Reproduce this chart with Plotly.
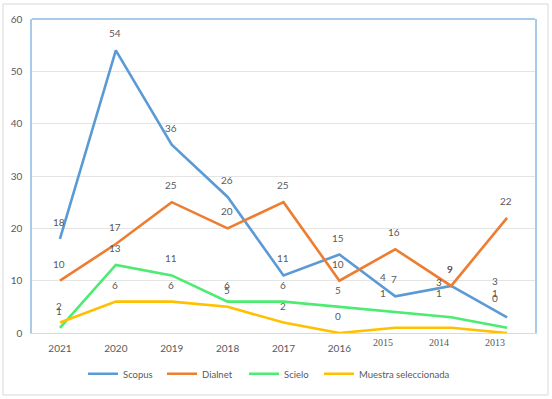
import plotly.graph_objects as go

years = ["2021", "2020", "2019", "2018", "2017", "2016", "2015", "2014", "2013"]
scopus = [18, 54, 36, 26, 11, 15, 7, 9, 3]
dialnet = [10, 17, 25, 20, 25, 10, 16, 9, 22]
scielo = [1, 13, 11, 6, 6, 5, 4, 3, 1]
muestra = [2, 6, 6, 5, 2, 0, 1, 1, 0]
y_ticks = [0, 10, 20, 30, 40, 50, 60]

series = [
    ("Scopus", scopus, "#5B9BD5"),
    ("Dialnet", dialnet, "#ED7D31"),
    ("Scielo", scielo, "#4CEB72"),
    ("Muestra seleccionada", muestra, "#FFC000"),
]

FONT = "Lato, 'Liberation Sans', sans-serif"
SERIF = "'Liberation Serif', 'DejaVu Serif', serif"
GREY = "#595959"

# left pixel of each legend entry sample line in the reference
legend_left_px = [88, 167, 249, 324]
L, R, T, B, W, H = 32, 17, 19, 66, 552, 399
pw = W - L - R

fig = go.Figure()
xs = list(range(len(years)))
legend_ids = ["legend", "legend2", "legend3", "legend4"]
for k, (name, vals, color) in enumerate(series):
    fig.add_trace(go.Scatter(
        x=xs, y=vals, mode="lines", name=name,
        line=dict(color=color, width=2.6),
        hoverinfo="skip", legend=legend_ids[k],
    ))

annotations = []
shifted = {6, 7, 8}  # last three categories have labels offset in the reference
for name, vals, color in series:
    for i, v in enumerate(vals):
        xshift, yshift = -1, 17
        if i in shifted and name in ("Scielo", "Muestra seleccionada"):
            xshift, yshift = -12, 35
        if i == 8 and name == "Scopus":
            xshift, yshift = -12, 36
        annotations.append(dict(
            x=i, y=v, xref="x", yref="y", text=str(v), showarrow=False,
            xshift=xshift, yshift=yshift,
            font=dict(family=FONT, size=10, color=GREY),
        ))

# x tick labels: last three appear in a serif font, shifted in the reference
tick_text = [y if i not in shifted else "" for i, y in enumerate(years)]
for i in shifted:
    annotations.append(dict(
        x=i, y=0, xref="x", yref="y", text=years[i], showarrow=False,
        xshift=-12, yshift=-9,
        font=dict(family=SERIF, size=10, color=GREY),
    ))

legend_defs = {}
for k, lid in enumerate(legend_ids):
    legend_defs[lid] = dict(
        orientation="h", x=(legend_left_px[k] - 5 - L) / pw, xanchor="left",
        y=-0.13, yanchor="middle", bgcolor="rgba(0,0,0,0)",
        font=dict(family=FONT, size=9.5, color=GREY),
        itemwidth=30,
    )

fig.update_layout(
    width=W, height=H,
    margin=dict(l=L, r=R, t=T, b=B, autoexpand=False),
    paper_bgcolor="white", plot_bgcolor="white",
    font=dict(family=FONT, size=10, color=GREY),
    showlegend=True,
    xaxis=dict(
        range=[-0.5, len(years) - 0.5],
        tickmode="array", tickvals=xs, ticktext=tick_text,
        showgrid=False, zeroline=False, automargin=False,
        showline=True, linecolor="#D9D9D9", linewidth=1,
        ticks="", tickfont=dict(family=FONT, size=10, color=GREY),
        ticklabelstandoff=6, fixedrange=True,
    ),
    yaxis=dict(
        range=[0, 60], tickmode="array", tickvals=y_ticks,
        showgrid=True, gridcolor="#E4E4E4", gridwidth=1,
        zeroline=False, automargin=False,
        showline=True, linecolor="#A9CBEA", linewidth=1.5, mirror=True,
        ticks="", tickfont=dict(family=FONT, size=10, color=GREY),
        ticklabelstandoff=6, fixedrange=True,
    ),
    annotations=annotations,
    shapes=[
        dict(type="line", xref="paper", yref="paper", x0=0, x1=1, y0=1, y1=1,
             line=dict(color="#A9CBEA", width=2)),
        dict(type="rect", xref="paper", yref="paper",
             x0=-0.0577, x1=1.0258, y0=-0.1975, y1=1.0478,
             line=dict(color="#D9D9D9", width=1)),
    ],
    **legend_defs,
)

fig.write_html(
    "out.html",
    config={"displayModeBar": False},
    post_script="document.body.style.margin='0';document.body.style.padding='0';",
)
